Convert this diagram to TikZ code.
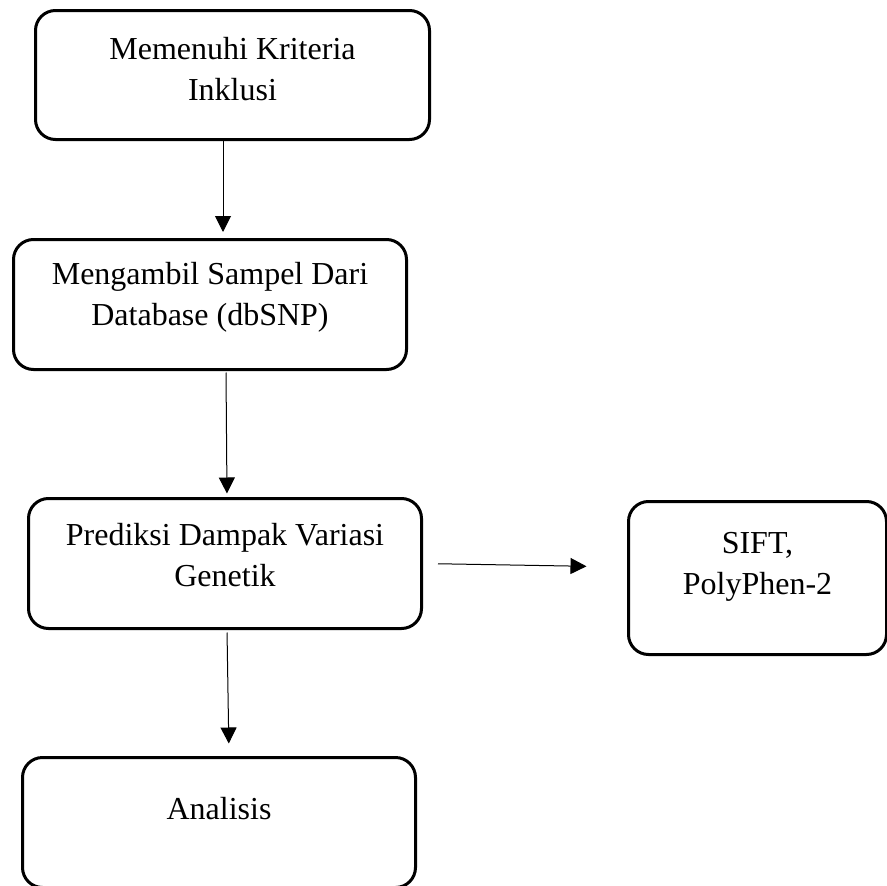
\documentclass[tikz,border=0pt]{standalone}
\usepackage{fontspec}
\setmainfont{Liberation Serif}
\usetikzlibrary{positioning,arrows.meta}

\begin{document}
\begin{tikzpicture}[x=1pt,y=-1pt,
  kotak/.style={draw, line width=3pt, rounded corners=20pt, inner sep=0pt},
  teks/.style={align=center, font=\fontsize{32}{41}\selectfont},
  panah/.style={line width=1pt, -{Triangle[length=16pt,width=16pt]}}]
  \useasboundingbox (0,0) rectangle (887,886);

  \node[kotak, minimum width=394pt, minimum height=129pt] (kriteria) at (232.5,75) {};
  \node[teks] (tkriteria) at (232.5,69) {Memenuhi Kriteria\\Inklusi};

  \node[kotak, minimum width=393pt, minimum height=130pt] (sampel) at (210,304.5) {};
  \node[teks] (tsampel) at (210,297) {Mengambil Sampel Dari\\Database (dbSNP)};

  \node[kotak, minimum width=393pt, minimum height=130pt] (prediksi) at (225,563.5) {};
  \node[teks] (tprediksi) at (225,555) {Prediksi Dampak Variasi\\Genetik};

  \node[kotak, minimum width=258pt, minimum height=153pt] (tools) at (757.5,578) {};
  \node[teks] (ttools) at (757.5,567) {SIFT,\\PolyPhen-2};

  \node[kotak, minimum width=393pt, minimum height=130pt] (analisis) at (219,822.5) {};
  \node[teks] (tanalisis) at (219,809) {Analisis};

  % panah antar kotak
  \draw[panah, shorten >=6pt] ([xshift=-9.5pt]kriteria.south) -- ([xshift=13pt]sampel.north);
  \draw[panah, shorten <=1.5pt, shorten >=3.5pt] ([xshift=16pt]sampel.south) -- ([xshift=2pt]prediksi.north);
  \draw[panah, shorten <=15pt, shorten >=40.5pt] (prediksi.east) -- ([yshift=11pt]tools.west);
  \draw[panah, shorten <=2.5pt, shorten >=12.5pt] ([xshift=2pt]prediksi.south) -- ([xshift=10pt]analisis.north);
\end{tikzpicture}
\end{document}
